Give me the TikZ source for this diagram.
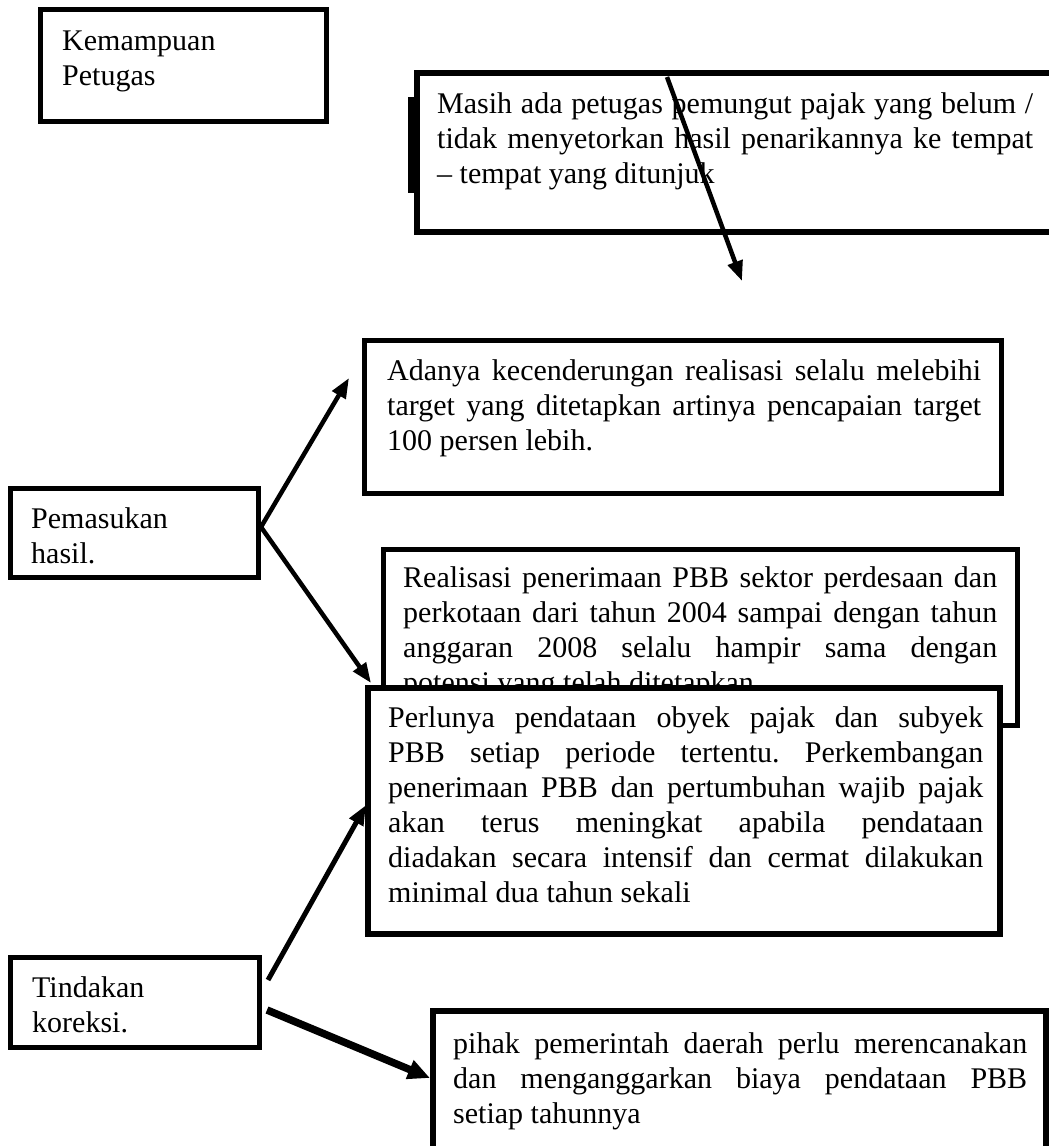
\documentclass[tikz,border=0pt]{standalone}
\usepackage{fontspec}
\setmainfont{Liberation Serif}
\usetikzlibrary{arrows.meta}
\frenchspacing
\newcommand{\jline}[1]{\makebox[\hsize][s]{#1}}
\newcommand{\nsp}{\spaceskip=0pt\relax\xspaceskip=0pt\relax\frenchspacing}
\begin{document}
\begin{tikzpicture}[x=1pt,y=-1pt,
  box/.style={draw=black, line width=5pt, inner sep=0pt, fill=white},
  txt/.style={font=\fontsize{30}{35}\selectfont, inner sep=0pt, anchor=base west, align=left},
  arr/.style={-{Triangle[length=20pt,width=15pt]}, line width=4.5pt}]
\useasboundingbox (0,0) rectangle (1049,1146);
\clip (0,0) rectangle (1049,1146);
% boxes
\node[box, minimum width=286pt, minimum height=112pt] (K) at (183.5,65.5) {};
\node[box, line width=6pt, minimum width=653pt, minimum height=159pt] (M) at (743.5,152.5) {};
\fill (408,97) rectangle (415,193);
\node[box, minimum width=637pt, minimum height=153pt] (A) at (683,417) {};
\node[box, minimum width=248pt, minimum height=89pt] (P) at (134.5,533) {};
\node[box, minimum width=634pt, minimum height=176pt] (R) at (700.5,637.5) {};
\node[txt, text width=594pt] (Rt) at (403,587) {\nsp\jline{Realisasi penerimaan PBB sektor perdesaan dan}\\
\jline{perkotaan dari tahun 2004 sampai dengan tahun}\\
\jline{anggaran 2008 selalu hampir sama dengan}\\
potensi yang telah ditetapkan.};
\node[box, line width=6pt, minimum width=632.5pt, minimum height=246pt] (L) at (683.75,811) {};
\node[box, minimum width=249pt, minimum height=90pt] (T) at (135,1002.5) {};
\node[box, line width=6pt, minimum width=613pt, minimum height=169pt] (H) at (739.5,1095.5) {};
% texts
\node[txt, text width=250pt] (Kt) at (62,50) {\nsp Kemampuan\\Petugas};
\node[txt, text width=596pt] (Mt) at (437,113) {\nsp\jline{Masih ada petugas pemungut pajak yang belum /}\\
\jline{tidak menyetorkan hasil penarikannya ke tempat}\\
-- tempat yang ditunjuk};
\node[txt, text width=594pt] (At) at (387,380) {\nsp\jline{Adanya kecenderungan realisasi selalu melebihi}\\
\jline{target yang ditetapkan artinya pencapaian target}\\
100 persen lebih.};
\node[txt, text width=210pt] (Pt) at (31,528) {\nsp Pemasukan\\hasil.};
\node[txt, text width=595pt] (Lt) at (388,727) {\nsp\jline{Perlunya pendataan obyek pajak dan subyek}\\
\jline{PBB setiap periode tertentu. Perkembangan}\\
\jline{penerimaan PBB dan pertumbuhan wajib pajak}\\
\jline{akan terus meningkat apabila pendataan}\\
\jline{diadakan secara intensif dan cermat dilakukan}\\
minimal dua tahun sekali};
\node[txt, text width=210pt] (Tt) at (32,997) {\nsp Tindakan\\koreksi.};
\node[txt, text width=574pt] (Ht) at (453,1053) {\nsp\jline{pihak pemerintah daerah perlu merencanakan}\\
\jline{dan menganggarkan biaya pendataan PBB}\\
setiap tahunnya};
% connector points
\coordinate (mS) at (667,77);
\coordinate (mE) at (742,281);
\coordinate (pS) at (261,527);
\coordinate (aE) at (349,378);
\coordinate (lE1) at (371,683);
\coordinate (tS1) at (268,980);
\coordinate (lE2) at (366,805);
\coordinate (tS2) at (267,1010);
\coordinate (hE) at (430,1078);
% connectors
\draw[arr] (mS) -- (mE);
\draw[arr] (pS) -- (aE);
\draw[arr] (pS) -- (lE1);
\draw[arr, line width=5pt] (tS1) -- (lE2);
\draw[-{Triangle[length=22pt,width=19pt]}, line width=7.5pt] (tS2) -- (hE);
\end{tikzpicture}
\end{document}
